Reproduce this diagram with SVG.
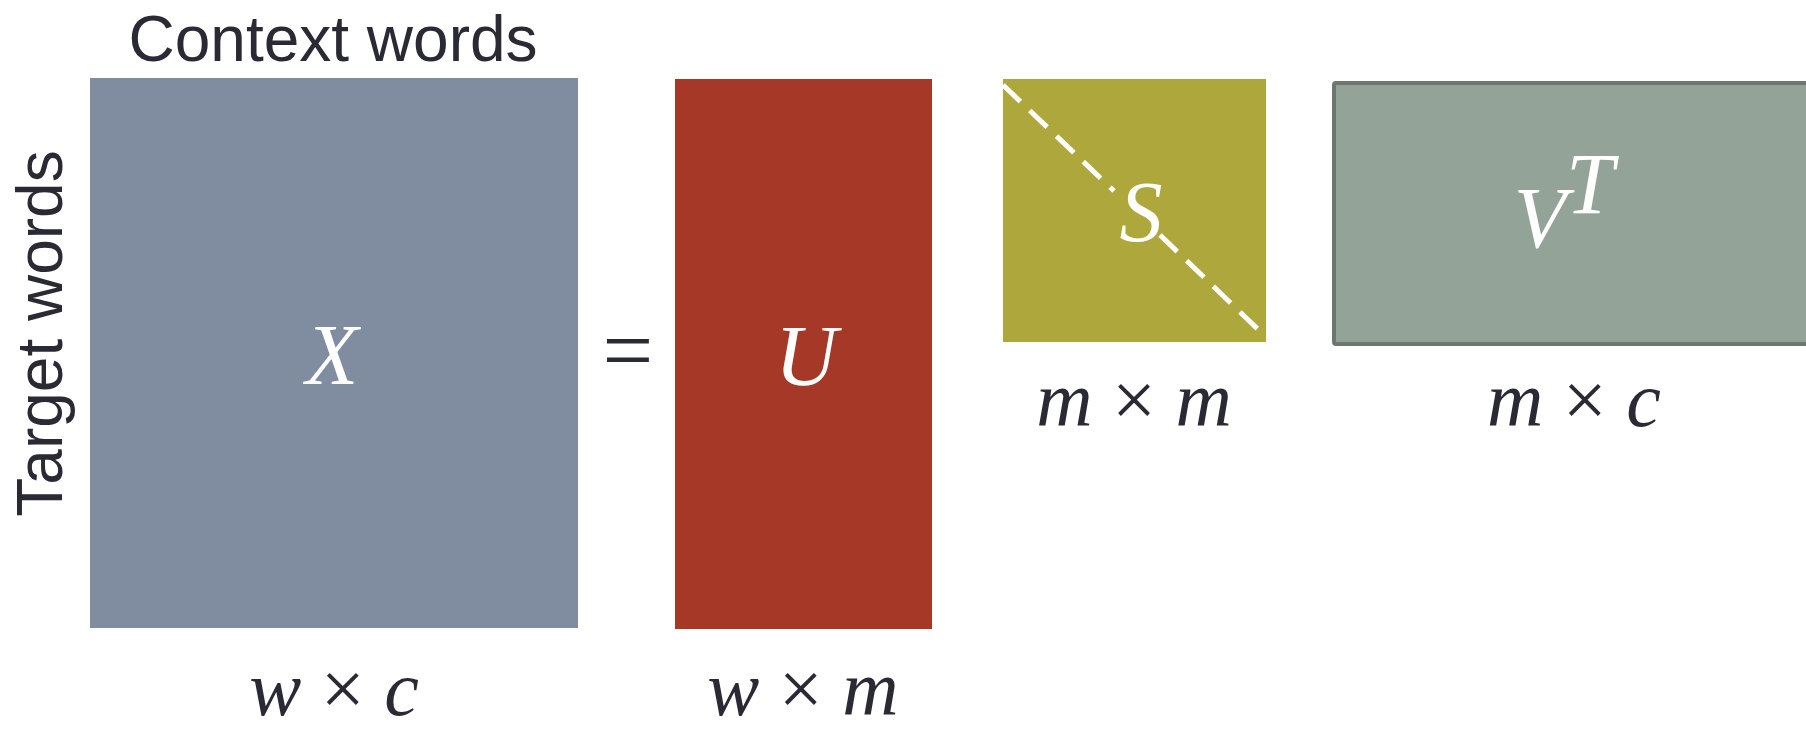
<svg xmlns="http://www.w3.org/2000/svg" width="1806" height="733" viewBox="0 0 1806 733">
<style>
.lab{font-family:"Liberation Sans",Arial,sans-serif;font-size:64px;fill:#2a2a35}
.mat{font-family:"Liberation Serif","Times New Roman",serif;font-style:italic;font-size:86px;fill:#ffffff}
.dim{font-family:"Liberation Serif","Times New Roman",serif;font-size:78px;fill:#2a2a35;text-anchor:middle}
.dim .i{font-style:italic}
</style>
<rect width="1806" height="733" fill="#ffffff"/>
<g id="label-context">
<text class="lab" x="333" y="61" text-anchor="middle">Context words</text>
</g>
<g id="label-target">
<text class="lab" transform="translate(62,333.5) rotate(-90)" text-anchor="middle">Target words</text>
</g>
<g id="node-X">
<rect x="90" y="78" width="488" height="550" fill="#808da0"/>
<text class="mat" x="332" y="384" text-anchor="middle">X</text>
<text class="dim" x="334" y="715"><tspan class="i">w</tspan> × <tspan class="i">c</tspan></text>
</g>
<g id="equals">
<text x="628" y="381" font-family="Liberation Serif,serif" font-size="90" fill="#2a2a35" text-anchor="middle">=</text>
</g>
<g id="node-U">
<rect x="675" y="79" width="257" height="550" fill="#a53826"/>
<text class="mat" x="806" y="385" text-anchor="middle">U</text>
<text class="dim" x="803" y="715"><tspan class="i">w</tspan> × <tspan class="i">m</tspan></text>
</g>
<g id="node-S">
<rect x="1003" y="79" width="263" height="263" fill="#aea83c"/>
<path d="M1003 85 L1114 191 M1160 235 L1266 337" stroke="#ffffff" stroke-width="5" stroke-dasharray="24 13" fill="none"/>
<text class="mat" x="1141" y="241" text-anchor="middle">S</text>
<text class="dim" x="1134" y="426"><tspan class="i">m</tspan> × <tspan class="i">m</tspan></text>
</g>
<g id="node-VT">
<rect x="1334" y="83" width="490" height="261" fill="#93a398" stroke="#6b776f" stroke-width="4" rx="2"/>
<text class="mat" x="1540" y="247" text-anchor="middle" font-size="90">V</text>
<text class="mat" x="1590" y="213" text-anchor="middle" font-size="52">T</text>
<text class="dim" x="1574" y="426"><tspan class="i">m</tspan> × <tspan class="i">c</tspan></text>
</g>
<g id="connectors"></g>
</svg>
